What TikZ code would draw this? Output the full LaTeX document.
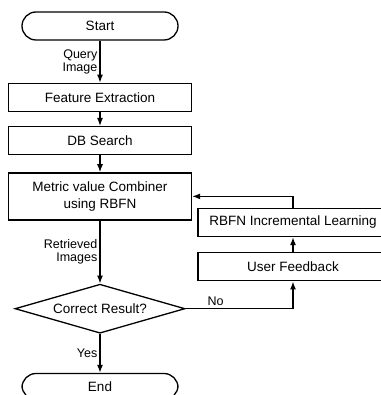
\documentclass[tikz,border=0pt]{standalone}
\usepackage{fontspec}
\setmainfont{Liberation Sans}
\usetikzlibrary{arrows.meta,positioning,shapes.geometric}

\tikzset{
  term/.style={draw, rounded corners=14pt, minimum width=156pt, minimum height=28pt, inner sep=0pt},
  proc/.style={draw, minimum width=183pt, minimum height=28pt, inner sep=0pt},
  dec/.style={draw, diamond, aspect=3.5, minimum width=170pt, minimum height=49pt, inner sep=0pt},
  lbl/.style={font=\fontsize{12.5}{13}\selectfont, align=right, inner sep=2pt},
}

\begin{document}
\begin{tikzpicture}[x=1pt,y=-1pt,line width=1.3pt,node distance=14pt,
  font=\fontsize{13.5}{17}\selectfont, >={Latex[length=8pt,width=6pt]}]
\useasboundingbox (0,0) rectangle (380,395);
\node[term]          (start) at (100,26)         {Start};
\node[proc]          (fe)    [below=42pt of start] {Feature Extraction};
\node[proc]          (db)    [below=of fe]       {DB Search};
\node[proc, minimum height=47pt, align=center] (comb) [below=17pt of db] {Metric value Combiner\\using RBFN};
\node[dec]           (check) [below=63pt of comb] {Correct Result?};
\node[term, minimum height=26pt] (end) [below=39pt of check] {End};
% right-hand loop, boxes run past the page edge
\node[proc, minimum width=190pt] (learn) at (293,222.5) {RBFN Incremental Learning};
\node[proc, minimum width=190pt] (fb)    [below=15pt of learn] {User Feedback};
\path[->]
          (start) edge node[lbl,left] {Query\\Image} (fe)
          (fe)    edge (db)
          (db)    edge (comb)
          (comb)  edge node[lbl,left] {Retrieved\\Images} (check)
          (check) edge node[lbl,left] {Yes} (end)
          (fb)    edge (learn);
\draw[->] (check) -| node[lbl,above,pos=0.14] {No} (fb);
\draw[->] (learn) |- (comb);
\end{tikzpicture}
\end{document}
